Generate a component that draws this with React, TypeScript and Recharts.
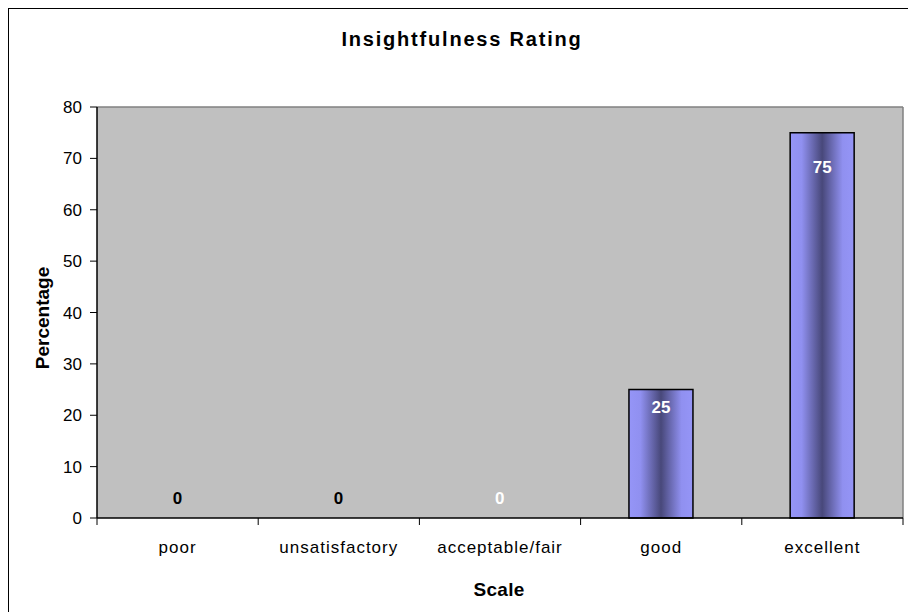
import React from 'react';
import { BarChart, Bar, XAxis, YAxis, CartesianGrid, LabelList, Cell } from 'recharts';

const categories = ['poor', 'unsatisfactory', 'acceptable/fair', 'good', 'excellent'];
const percentages = [0, 0, 0, 25, 75];
const yTicks = [0, 10, 20, 30, 40, 50, 60, 70, 80];
const chartTitle = 'Insightfulness Rating';
const xTitle = 'Scale';
const yTitle = 'Percentage';

const data = categories.map((c, i) => ({ category: c, value: percentages[i] }));

const LABEL_COLORS = ['#000000', '#000000', '#ffffff', '#ffffff', '#ffffff'];
const LABEL_DY = [-14, -14, -14, 23, 40];

const FONT = '"Liberation Sans", Arial, sans-serif';
const X_TICK_MARGIN = 23;
const X_TICK_LEN = 7;

const renderLabel = (props: any) => {
  const { x, y, width, height, value } = props;
  const idx = categories.indexOf(String(value));
  if (idx < 0) return null;
  const cx = Number(x) + Number(width) / 2;
  const h = Number(height || 0);
  const bottom = Math.max(Number(y), Number(y) + h);
  const top = percentages[idx] === 0 ? bottom : Math.min(Number(y), Number(y) + h);
  const cy = top + LABEL_DY[idx];
  return (
    <text
      key={`lbl-${idx}`}
      x={cx}
      y={cy}
      textAnchor="middle"
      fill={LABEL_COLORS[idx]}
      fontFamily={FONT}
      fontWeight="bold"
      fontSize={17}
    >
      {percentages[idx]}
    </text>
  );
};

// category tick: label at the band centre, tick marks at the band edges
const CategoryTick = (props: any) => {
  const { x, y, payload, width } = props;
  const idx = categories.indexOf(String(payload.value));
  const half =
    payload && typeof payload.offset === 'number' && payload.offset > 0
      ? payload.offset
      : Number(width) / categories.length / 2;
  const axisY = Number(y) - X_TICK_MARGIN;
  const isLast = idx === categories.length - 1;
  return (
    <g>
      <line x1={x - half} x2={x - half} y1={axisY} y2={axisY + X_TICK_LEN} stroke="#000" strokeWidth={1} />
      {isLast && (
        <line x1={x + half} x2={x + half} y1={axisY} y2={axisY + X_TICK_LEN} stroke="#000" strokeWidth={1} />
      )}
      <text
        x={x}
        y={y}
        dy="0.71em"
        textAnchor="middle"
        fill="#000"
        fontFamily={FONT}
        fontSize={17}
        letterSpacing={1}
      >
        {payload.value}
      </text>
    </g>
  );
};

export default function App() {
  return (
    <div style={{ position: 'fixed', left: 0, top: 0, width: 908, height: 612, overflow: 'hidden', background: '#fff' }}>
      <div
        style={{
          position: 'absolute',
          left: 8,
          top: 8,
          width: 1000,
          height: 1000,
          border: '1px solid #000',
          boxSizing: 'border-box',
        }}
      />
      <div style={{ position: 'absolute', left: 0, top: 0 }}>
        <BarChart
          width={908}
          height={612}
          data={data}
          margin={{ top: 107, right: 5, left: 12, bottom: 54 }}
          barCategoryGap="30%"
        >
          <defs>
            <linearGradient id="barGrad" x1="0" y1="0" x2="1" y2="0">
              <stop offset="0%" stopColor="#9595F7" />
              <stop offset="18%" stopColor="#9090F0" />
              <stop offset="50%" stopColor="#48487A" />
              <stop offset="82%" stopColor="#9090F0" />
              <stop offset="100%" stopColor="#9595F7" />
            </linearGradient>
          </defs>
          <CartesianGrid
            fill="#C0C0C0"
            stroke="#808080"
            strokeWidth={1.5}
            horizontalCoordinatesGenerator={({ offset }: any) => [offset.top]}
            verticalCoordinatesGenerator={({ offset }: any) => [offset.left + offset.width]}
          />
          <Bar
            dataKey="value"
            fill="url(#barGrad)"
            stroke="#000"
            strokeWidth={1.5}
            minPointSize={0.5}
            isAnimationActive={false}
          >
            {data.map((d, i) => (
              <Cell
                key={`c-${i}`}
                fill={d.value === 0 ? 'none' : 'url(#barGrad)'}
                stroke={d.value === 0 ? 'none' : '#000'}
              />
            ))}
            <LabelList dataKey="category" content={renderLabel} />
          </Bar>
          <XAxis
            dataKey="category"
            interval={0}
            axisLine={{ stroke: '#000', strokeWidth: 1.5 }}
            tickLine={false}
            tickSize={0}
            tickMargin={X_TICK_MARGIN}
            height={40}
            tick={<CategoryTick />}
          />
          <YAxis
            domain={[0, 80]}
            ticks={yTicks}
            interval={0}
            width={85}
            axisLine={{ stroke: '#000', strokeWidth: 1.5 }}
            tickLine={{ stroke: '#000' }}
            tickSize={7}
            tickMargin={8}
            tick={{ fill: '#000', fontSize: 17, fontFamily: FONT }}
          />
        </BarChart>
      </div>
      <svg
        width={908}
        height={612}
        style={{ position: 'absolute', left: 0, top: 0, pointerEvents: 'none' }}
      >
        <text x={462} y={46} textAnchor="middle" fontFamily={FONT} fontWeight="bold" fontSize={20} letterSpacing={1.8} fill="#000">
          {chartTitle}
        </text>
        <text x={499} y={596} textAnchor="middle" fontFamily={FONT} fontWeight="bold" fontSize={19} letterSpacing={0.3} fill="#000">
          {xTitle}
        </text>
        <text x={42} y={318} dy="0.35em" textAnchor="middle" transform="rotate(-90 42 318)" fontFamily={FONT} fontWeight="bold" fontSize={19} fill="#000">
          {yTitle}
        </text>
      </svg>
    </div>
  );
}
